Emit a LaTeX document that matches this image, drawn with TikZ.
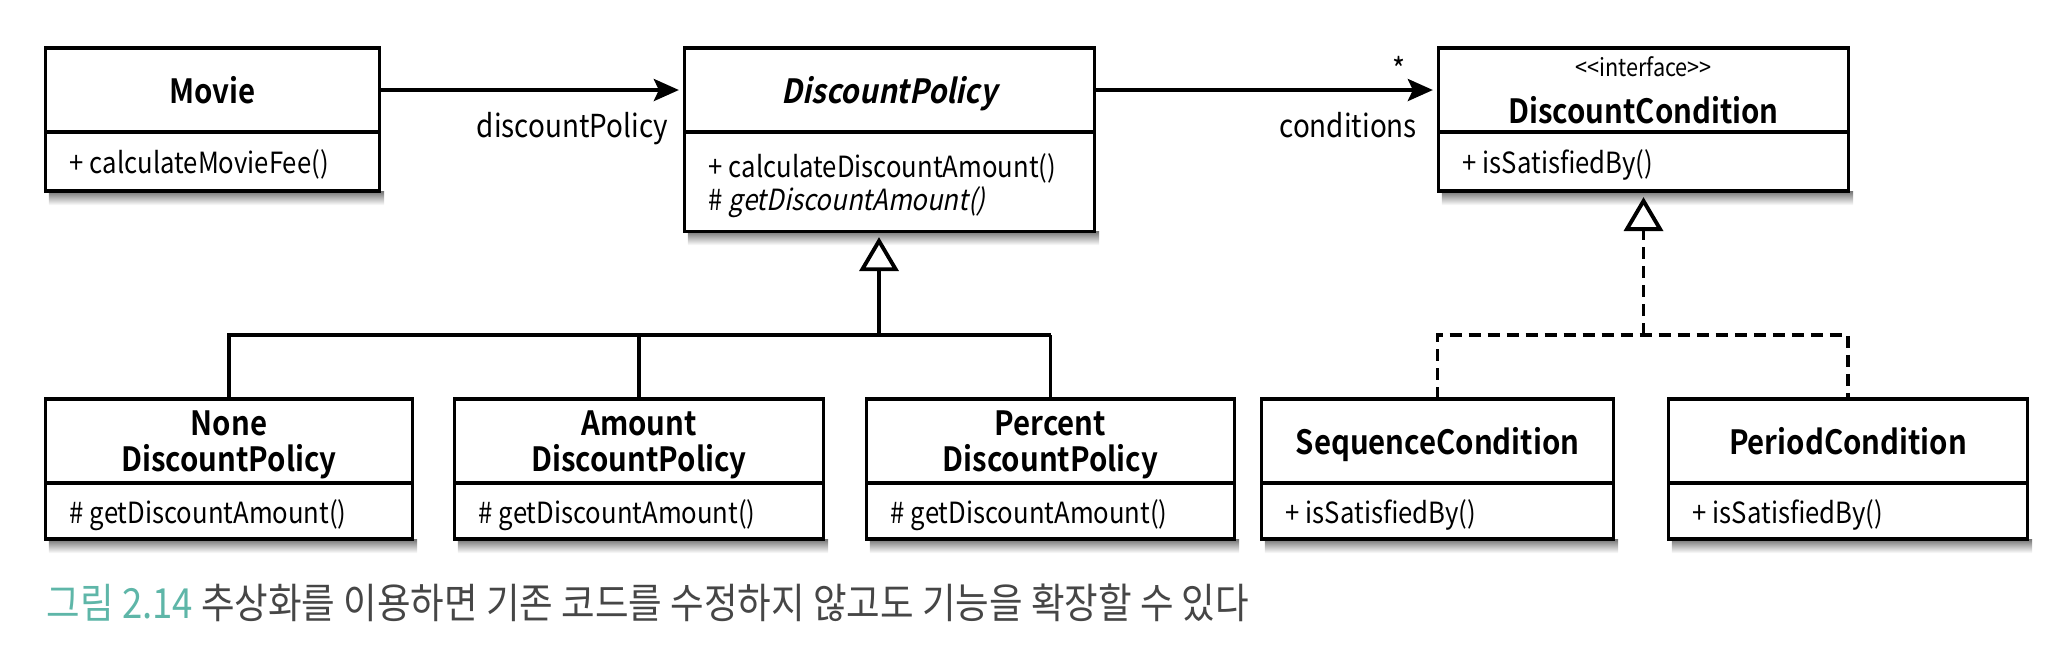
\documentclass[tikz,border=0pt]{standalone}
\usepackage{fontspec}
\setmainfont{Noto Sans CJK KR}[
  FakeStretch=0.88,
  BoldFont={Noto Sans CJK KR Bold},
  ItalicFont={Noto Sans CJK KR},
  ItalicFeatures={FakeSlant=0.2},
  BoldItalicFont={Noto Sans CJK KR Bold},
  BoldItalicFeatures={FakeSlant=0.2}]
\usetikzlibrary{arrows.meta,positioning,backgrounds}

\definecolor{capteal}{RGB}{94,182,168}
\definecolor{capgray}{RGB}{70,70,70}

\tikzset{
  classhead/.style={draw,line width=0.9pt,fill=white,outer sep=0pt,inner sep=0pt,
    minimum width=#1,minimum height=0.84cm,align=center,text depth=0pt,
    font=\fontsize{9.5}{10.2}\selectfont\bfseries},
  classbody/.style={draw,line width=0.9pt,fill=white,outer sep=0pt,
    inner xsep=0.24cm,inner ysep=0pt,text width=#1,align=flush left,text depth=0pt,
    font=\fontsize{8.3}{9.4}\selectfont},
  boxshadow/.style={top color=black!55,bottom color=white},
  assoc/.style={line width=1.1pt,-{Stealth[length=0.25cm,width=0.22cm,inset=0.05cm]},
    shorten >=0.06cm},
  rolelabel/.style={inner sep=0pt,font=\fontsize{9}{10}\selectfont},
  inherit/.style={line width=1.1pt,
    -{Triangle[open,length=0.34cm,width=0.39cm,line width=1.1pt]},shorten >=0.06cm},
  tree/.style={line width=1.1pt},
  realize/.style={line width=1.1pt,dash pattern=on 0.12cm off 0.07cm},
}

\begin{document}
\begin{tikzpicture}[x=0.01cm,y=-0.01cm]
\useasboundingbox (0,0) rectangle (2048,644);

% upper row
\node[classhead=3.33cm] (movie) at (212.5,90) {Movie};
\node[classbody=2.85cm,minimum height=0.59cm,below=0pt of movie] (moviebody)
  {+~calculateMovieFee()};

\node[classhead=4.09cm] (policy) at (889.5,90) {\itshape DiscountPolicy};
\node[classbody=3.61cm,minimum height=0.99cm,below=0pt of policy,text depth=0.32cm,
  execute at begin node={\baselineskip=0.33cm}] (policybody)
  {+~calculateDiscountAmount()\\\#~\textit{getDiscountAmount()}};

\node[classhead=4.09cm] (cond) at (1643.5,90)
  {{\mdseries\fontsize{7}{8}\selectfont {<}{<}interface{>}{>}}\\[3pt]DiscountCondition};
\node[classbody=3.61cm,minimum height=0.59cm,below=0pt of cond] (condbody)
  {+~isSatisfiedBy()};

% lower row
\node[classhead=3.66cm] (none) at (229,441) {None\\DiscountPolicy};
\node[classbody=3.18cm,minimum height=0.56cm,below=0pt of none] (nonebody)
  {\#~getDiscountAmount()};
\node[classhead=3.68cm] (amount) at (639,441) {Amount\\DiscountPolicy};
\node[classbody=3.20cm,minimum height=0.56cm,below=0pt of amount] (amountbody)
  {\#~getDiscountAmount()};
\node[classhead=3.67cm] (percent) at (1050.5,441) {Percent\\DiscountPolicy};
\node[classbody=3.19cm,minimum height=0.56cm,below=0pt of percent] (percentbody)
  {\#~getDiscountAmount()};
\node[classhead=3.51cm] (sequence) at (1437.5,441) {SequenceCondition};
\node[classbody=3.03cm,minimum height=0.56cm,below=0pt of sequence] (sequencebody)
  {+~isSatisfiedBy()};
\node[classhead=3.58cm] (period) at (1848,441) {PeriodCondition};
\node[classbody=3.10cm,minimum height=0.56cm,below=0pt of period] (periodbody)
  {+~isSatisfiedBy()};

% soft shadow under every class box
\begin{scope}[on background layer]
\foreach \c in {moviebody,policybody,condbody,nonebody,amountbody,percentbody,
                sequencebody,periodbody}{
  \shade[boxshadow] ([xshift=0.03cm]\c.south west)
    rectangle ([xshift=0.05cm,yshift=-0.14cm]\c.south east);}
\end{scope}

% associations
\draw[assoc] (movie.east) -- (policy.west)
  node[rolelabel,pos=1,anchor=north east,xshift=-0.15cm,yshift=-0.2cm] (policyrole) {discountPolicy};
\draw[assoc] (policy.east) -- (cond.west)
  node[rolelabel,pos=1,anchor=north east,xshift=-0.2cm,yshift=-0.2cm] (condrole) {conditions}
  node[rolelabel,pos=1,anchor=base,xshift=-0.4cm,yshift=0.09cm] (condmult) {*};

% generalization
\coordinate (join) at (879,335);
\draw[inherit] (join) -- (join |- policybody.south);
\draw[tree] (none.north) -- (none.north |- join) -- (percent.north |- join);
\foreach \c in {amount,percent}{
  \draw[tree] (\c.north) -- (\c.north |- join);}

% realization
\draw[inherit,dash pattern=on 0.12cm off 0.07cm] (condbody.south |- join) -- (condbody.south);
\draw[realize] (sequence.north) -- (sequence.north |- join) -- (period.north |- join)
  -- (period.north);

% caption
\node[anchor=west,inner sep=0pt,text=capgray,font=\fontsize{11.8}{13}\selectfont] (caption)
  at (46,603) {{\color{capteal}그림 2.14} 추상화를 이용하면 기존 코드를 수정하지 않고도 기능을 확장할 수 있다};
\end{tikzpicture}
\end{document}
